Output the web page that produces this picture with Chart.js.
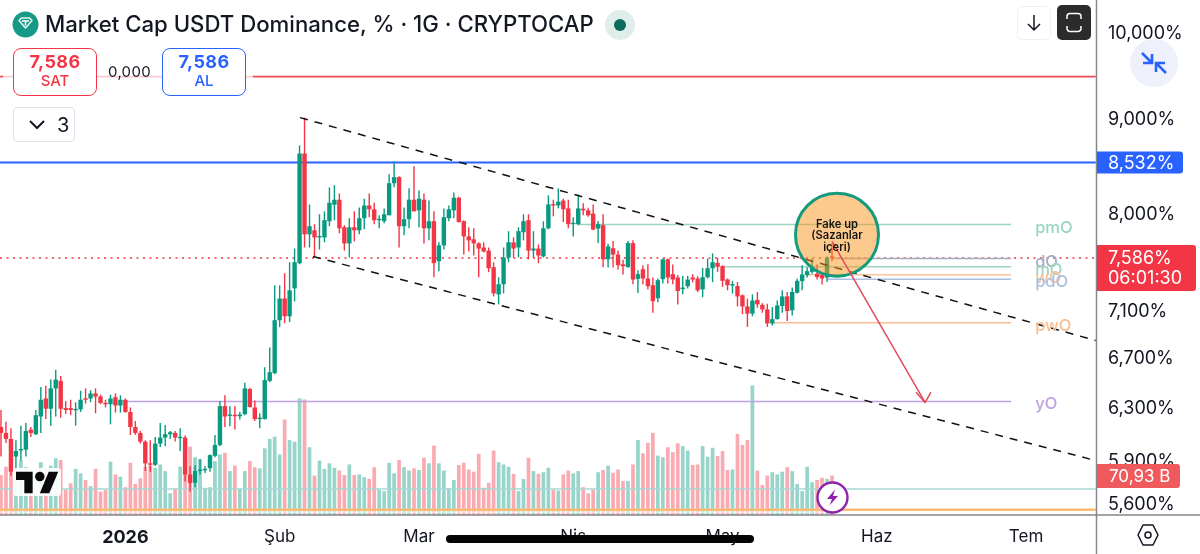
<!DOCTYPE html>
<html lang="tr">
<head>
<meta charset="utf-8">
<title>Market Cap USDT Dominance</title>
<script src="https://cdn.jsdelivr.net/npm/chart.js@4/dist/chart.umd.min.js"></script>
<style>
  html, body { margin: 0; padding: 0; background: #fff; }
  #stage { position: relative; width: 1200px; height: 554px; overflow: hidden; font-family: Inter, "Noto Sans", sans-serif; color: #131722; }
  canvas { position: absolute; left: 0; top: 0; }
  .abs { position: absolute; }
  #title { left: 45px; top: 10px; font-size: 22.2px; font-weight: 500; white-space: nowrap; line-height: 28px; letter-spacing: 0; }
  .trade { box-sizing: border-box; width: 84px; height: 48px; top: 48px; background: #fff; border-radius: 8px; border: 1.5px solid; text-align: center; }
  .trade b { display: block; font-size: 18px; font-weight: 700; line-height: 20px; margin-top: 3px; letter-spacing: .4px; }
  .trade span { display: block; font-size: 15px; font-weight: 500; line-height: 18px; }
  .veil { background: rgba(255,255,255,.72); height: 6px; top: 74px; }
  #spread { left: 108px; top: 62px; font-size: 15px; background: transparent; letter-spacing: .3px; }
  #collapse { left: 13px; top: 107px; width: 62px; height: 35px; box-sizing: border-box; border: 1px solid #e0e3eb; border-radius: 4px; background: #fff; }
  #collapse span { position: absolute; left: 43px; top: 4px; font-size: 20px; line-height: 26px; }
  #home { left: 446px; top: 535px; width: 308px; height: 8px; border-radius: 4px; background: #050505; }
</style>
</head>
<body>
<div id="stage">
  <canvas id="chart" width="1200" height="554"></canvas>

  <svg class="abs" style="left:12px;top:11px" width="27" height="27" viewBox="0 0 27 27">
    <circle cx="13.5" cy="13.5" r="13" fill="#169a86"/>
    <path d="M7 9.5 9.5 7h8l2.5 2.5-6.5 7.5z" fill="none" stroke="#dff5ef" stroke-width="1.6" stroke-linejoin="round"/>
    <path d="M10 10h7M13.5 10v4.5" stroke="#fff" stroke-width="1.5" fill="none"/>
  </svg>
  <div id="title" class="abs">Market Cap USDT Dominance, % · 1G · CRYPTOCAP</div>
  <svg class="abs" style="left:605px;top:10px" width="30" height="30" viewBox="0 0 30 30">
    <circle cx="15" cy="15" r="15" fill="#dfeeea"/>
    <circle cx="15" cy="15" r="6" fill="#0b6b5c"/>
  </svg>

  <div class="abs veil" style="left:3px;width:10px"></div>
  <div class="abs veil" style="left:96px;width:66px"></div>
  <div class="abs veil" style="left:245px;width:8px"></div>
  <div class="abs trade" style="left:13px;border-color:#f23645;color:#f23645"><b>7,586</b><span>SAT</span></div>
  <div id="spread" class="abs">0,000</div>
  <div class="abs trade" style="left:162px;border-color:#2962ff;color:#2962ff"><b>7,586</b><span>AL</span></div>

  <div id="collapse" class="abs">
    <svg class="abs" style="left:14px;top:11px" width="18" height="12" viewBox="0 0 18 12">
      <path d="M2 2l7 7 7-7" fill="none" stroke="#131722" stroke-width="2"/>
    </svg>
    <span>3</span>
  </div>

  <svg class="abs" style="left:1017px;top:6px" width="34" height="34" viewBox="0 0 34 34">
    <rect x=".5" y=".5" width="33" height="33" rx="5" fill="#fff" stroke="#eeeff2"/>
    <path d="M17 9v15M11 18l6 6 6-6" fill="none" stroke="#131722" stroke-width="1.5"/>
  </svg>
  <svg class="abs" style="left:1057px;top:5px" width="34" height="35" viewBox="0 0 34 35">
    <rect width="34" height="35" rx="5" fill="#2b2b2b"/>
    <path d="M10 14v-2.5a3 3 0 0 1 3-3h8a3 3 0 0 1 3 3V14M10 21v2.500a3 3 0 0 0 3 3h8a3 3 0 0 0 3-3V21" fill="none" stroke="#fff" stroke-width="1.5"/>
  </svg>
  <svg class="abs" style="left:1130px;top:39px" width="48" height="48" viewBox="0 0 48 48">
    <circle cx="24" cy="24" r="24" fill="#eef1fb"/>
    <path d="M12 14 22 24M13 24h9v-9M36 34 26 24M35 24h-9v9" fill="none" stroke="#2962ff" stroke-width="2.6"/>
  </svg>
  <svg class="abs" style="left:1137px;top:523px" width="22" height="24" viewBox="0 0 22 24">
    <path d="M6 2h10l5 10-5 10H6L1 12z" fill="none" stroke="#131722" stroke-width="1.5" stroke-linejoin="round"/>
    <circle cx="11" cy="12" r="3" fill="none" stroke="#131722" stroke-width="1.5"/>
  </svg>

  <svg class="abs" style="left:13px;top:468px" width="48" height="28" viewBox="0 0 48 28">
    <rect width="48" height="28" rx="3" fill="#fff" fill-opacity=".9"/>
    <g transform="translate(3 -1) scale(1.19 1.19)">
      <path d="M14 22H7V11H0V4h14v18zM28 22h-8l7.5-18h8L28 22z" fill="#0a0a0a"/>
      <circle cx="20" cy="8" r="4" fill="#0a0a0a"/>
    </g>
  </svg>
  <svg class="abs" style="left:816px;top:481px" width="33" height="33" viewBox="0 0 33 33">
    <circle cx="16.500" cy="16.500" r="15" fill="#fff" stroke="#8e24aa" stroke-width="2.4"/>
    <path d="M19 8.500 11 18h5l-2.500 6.500 8.500-9.500h-5z" fill="#8e24aa"/>
  </svg>
  <div id="home" class="abs"></div>
</div>

<script>
// Daily OHLC of USDT dominance (%), one entry per session.
const open = [
  6.16,6.115,6.07,5.94,5.985,5.99,6.14,6.105,6.24,6.38,
  6.30,6.46,6.52,6.305,6.305,6.288,6.295,6.38,6.38,6.42,
  6.395,6.345,6.335,6.39,6.325,6.37,6.275,6.16,6.115,6.05,
  5.89,5.88,6.035,6.08,6.105,6.115,6.075,6.08,5.81,5.75,
  5.835,5.84,5.855,5.945,6.025,6.32,6.245,6.248,6.242,6.258,
  6.455,6.31,6.22,6.22,6.52,6.582,7.026,7.216,7.06,7.307,
  7.537,8.627,7.81,7.849,7.78,7.78,7.937,8.10,8.15,7.878,
  7.723,7.878,7.849,7.966,8.092,8.054,7.947,7.937,7.995,8.317,
  8.38,7.888,7.957,8.15,8.044,8.15,7.868,7.937,7.555,7.704,
  7.966,8.044,8.17,7.937,7.79,7.762,7.723,7.684,7.655,7.50,
  7.253,7.344,7.59,7.733,7.684,7.83,7.947,7.655,7.674,7.60,
  7.868,8.102,8.092,8.141,8.063,7.908,7.908,8.06,8.044,8.012,
  7.866,7.898,7.573,7.677,7.618,7.527,7.50,7.726,7.393,7.481,
  7.396,7.335,7.219,7.39,7.573,7.436,7.405,7.30,7.326,7.405,
  7.396,7.298,7.408,7.49,7.54,7.509,7.387,7.332,7.328,7.244,
  7.146,7.083,7.204,7.16,7.12,6.998,7.035,7.15,7.235,7.112,
  7.268,7.372,7.427,7.457,7.44,7.427,7.405,7.60
];
const close = [
  6.115,6.07,5.83,5.98,5.995,6.13,6.115,6.25,6.37,6.30,
  6.46,6.53,6.30,6.29,6.29,6.295,6.37,6.37,6.42,6.395,
  6.345,6.335,6.38,6.325,6.37,6.275,6.16,6.115,6.05,5.89,
  5.88,6.035,6.08,6.105,6.12,6.08,6.08,5.81,5.75,5.835,
  5.84,5.85,5.95,6.025,6.32,6.24,6.25,6.242,6.255,6.46,
  6.313,6.22,6.222,6.526,6.59,7.026,7.216,7.06,7.289,7.546,
  8.627,7.81,7.888,7.78,7.79,7.947,8.12,8.15,7.868,7.723,
  7.878,7.849,7.966,8.092,8.054,7.947,7.957,8.005,8.317,8.38,
  7.888,7.957,8.15,8.034,8.16,7.868,7.937,7.537,7.704,7.976,
  8.054,8.17,7.928,7.79,7.752,7.723,7.674,7.646,7.49,7.262,
  7.344,7.59,7.733,7.674,7.84,7.937,7.655,7.674,7.609,7.868,
  8.102,8.092,8.131,8.054,7.908,7.918,8.063,8.044,7.995,7.856,
  7.908,7.573,7.694,7.618,7.518,7.509,7.726,7.387,7.436,7.396,
  7.326,7.192,7.381,7.573,7.405,7.387,7.283,7.314,7.387,7.387,
  7.289,7.408,7.49,7.546,7.503,7.375,7.335,7.338,7.235,7.146,
  7.083,7.198,7.164,7.12,6.998,7.035,7.155,7.235,7.106,7.274,
  7.375,7.433,7.463,7.50,7.41,7.396,7.588,7.586
];
const high = [
  6.29,6.20,6.15,6.06,6.17,6.19,6.16,6.29,6.47,6.48,
  6.53,6.61,6.56,6.36,6.37,6.35,6.44,6.46,6.445,6.46,
  6.41,6.37,6.41,6.42,6.405,6.38,6.31,6.205,6.13,6.06,
  6.06,6.085,6.19,6.175,6.13,6.13,6.15,6.095,5.87,5.877,
  5.92,5.87,5.955,6.10,6.36,6.405,6.32,6.32,6.275,6.505,
  6.465,6.364,6.263,6.63,6.794,7.335,7.335,7.445,7.546,7.674,
  8.713,9.017,8.102,7.908,8.005,8.034,8.275,8.296,8.213,7.898,
  7.966,8.034,8.073,8.16,8.213,8.12,7.995,8.063,8.41,8.545,
  8.39,8.073,8.265,8.493,8.244,8.213,8.141,8.034,7.733,8.063,
  8.092,8.223,8.18,7.947,7.878,7.868,7.733,7.733,7.684,7.546,
  7.408,7.684,7.84,7.781,7.878,8.005,8.005,7.84,7.713,7.937,
  8.193,8.15,8.265,8.16,8.15,7.976,8.203,8.115,8.07,8.102,
  7.94,8.005,7.72,7.745,7.655,7.57,7.745,7.752,7.472,7.518,
  7.527,7.405,7.396,7.58,7.58,7.524,7.427,7.418,7.418,7.436,
  7.418,7.493,7.58,7.628,7.588,7.518,7.396,7.375,7.365,7.253,
  7.214,7.253,7.274,7.175,7.17,7.14,7.198,7.289,7.274,7.314,
  7.393,7.518,7.50,7.58,7.524,7.457,7.60,7.723
];
const low = [
  5.94,6.04,5.80,5.80,5.91,5.94,6.085,6.10,6.115,6.22,
  6.17,6.24,6.23,6.26,6.25,6.17,6.275,6.34,6.35,6.265,
  6.335,6.31,6.18,6.27,6.27,6.27,6.10,6.10,6.035,5.835,
  5.83,5.87,6.01,6.015,6.07,6.05,5.98,5.76,5.69,5.72,
  5.81,5.82,5.83,5.935,6.015,6.16,6.166,6.14,6.217,6.25,
  6.31,6.205,6.15,6.217,6.51,6.574,6.966,7.00,7.01,7.19,
  7.527,7.684,7.684,7.60,7.665,7.733,7.888,7.947,7.82,7.655,
  7.59,7.742,7.81,7.859,7.976,7.908,7.868,7.918,7.995,8.275,
  7.684,7.80,7.868,8.034,7.878,7.723,7.752,7.408,7.463,7.665,
  7.937,7.966,7.928,7.618,7.646,7.609,7.408,7.637,7.454,7.235,
  7.164,7.262,7.546,7.59,7.59,7.752,7.573,7.59,7.537,7.59,
  7.859,7.985,8.063,7.928,7.868,7.79,7.898,7.995,7.98,7.849,
  7.726,7.50,7.497,7.497,7.478,7.433,7.497,7.344,7.265,7.344,
  7.296,7.09,7.183,7.35,7.35,7.344,7.164,7.253,7.305,7.36,
  7.273,7.228,7.396,7.363,7.457,7.32,7.289,7.26,7.146,7.078,
  6.968,7.06,7.135,7.09,6.968,6.98,7.032,7.09,7.02,7.066,
  7.26,7.289,7.405,7.44,7.387,7.341,7.365,7.555
];
// Daily volume in billions.
const volume = [
  72,87,99,72,99,86,57,75,95,84,
  89,102,99,46,57,83,75,63,52,83,
  42,45,96,73,69,50,94,56,66,87,
  88,85,91,79,39,47,87,99,123,104,
  101,49,50,97,109,112,79,89,47,79,
  97,86,84,120,137,141,109,172,135,132,
  210,208,122,71,98,83,93,85,80,72,
  91,72,73,68,65,86,46,43,94,75,
  99,86,80,84,81,103,93,125,93,80,
  48,63,90,94,82,78,110,49,58,116,
  95,91,87,74,43,65,103,79,74,77,
  85,46,44,73,80,75,79,50,39,46,
  77,81,89,76,82,61,61,91,135,111,
  130,148,107,104,122,113,129,124,116,90,
  91,124,105,121,106,115,81,82,146,126,
  135,233,80,54,71,77,73,78,86,79,
  56,43,87,59,63,67,65,70.93
];

// Time axis: session number of each month start, and its caption.
const tickDays = [25, 56, 84, 115, 145, 176, 206];
const tickLabels = ['2026', 'Şub', 'Mar', 'Nis', 'May', 'Haz', 'Tem'];
// Price axis ticks.
const priceTicks = [10, 9, 8, 7.1, 6.7, 6.3, 5.9, 5.6];

// Session-open reference levels.
const levelNames = ['pmO', 'dO', 'mO', 'wO', 'pdO', 'pwO', 'yO'];
const levelValues = [7.904, 7.58, 7.505, 7.43, 7.389, 7.003, 6.356];
const levelStarts = [116, 167, 145, 162, 166, 155, 25];
const levelColors = ['#98d6bd', '#a3aec0', '#9dd6c0', '#f9c49a', '#aac0e2', '#f8bd92', '#bda3e2'];
const levelEnd = 203;

// Full-width horizontal levels.
const sellLevel = 9.484;
const alertLevel = 8.532;
const lastPrice = 7.586;
const floorLevelA = 5.706;
const floorLevelB = 5.563;
const floorFade = 5.545;

// Drawn channel and projection, as session number and price.
const channelUpper = [{x: 60.1, y: 9.017}, {x: 220, y: 6.852}];
const channelLower = [{x: 62.7, y: 7.599}, {x: 220, y: 5.910}];
const projection = [{x: 167, y: 7.742}, {x: 185.7, y: 6.349}];
const projectionHead = [{x: 183.9, y: 6.43}, {x: 185.7, y: 6.349}, {x: 186.9, y: 6.43}];
const noteBubble = [{x: 168, y: 7.806, r: 41.5}];
const noteLines = ['Fake up', '(Sazanlar', 'içeri)'];

const UP = '#089981', DOWN = '#f23645';
const sessions = close.map((_, i) => i);
const isUp = i => close[i] >= open[i];

const hline = (value, from, to, color, width, dash, order) => ({
  type: 'line', data: [{x: from, y: value}, {x: to, y: value}],
  borderColor: color, borderWidth: width, borderDash: dash || [],
  pointRadius: 0, order, yAxisID: 'y'
});
const polyline = (points, color, width, dash, order) => ({
  type: 'line', data: points, borderColor: color, borderWidth: width,
  borderDash: dash || [], pointRadius: 0, order, yAxisID: 'y'
});

const datasets = [
  { type: 'bar', data: sessions.map(i => ({x: i, y: volume[i]})), yAxisID: 'y1', grouped: false,
    barThickness: 3.7, inflateAmount: 0, order: 30,
    backgroundColor: sessions.map(i => isUp(i) ? 'rgba(8,153,129,.42)' : 'rgba(242,54,69,.42)') },
  hline(floorLevelA, -0.2, 220, '#a9d9d4', 1.5, null, 28),
  hline(floorLevelB, -0.2, 220, '#fbbc72', 2.5, null, 27),
  hline(floorFade, -0.2, 220, 'rgba(255,255,255,.65)', 2, null, 26),
  hline(sellLevel, -0.2, 220, '#ef4a55', 1.8, null, 25),
  hline(alertLevel, -0.2, 220, '#2962ff', 2, null, 24),
  hline(lastPrice, -0.2, 220, '#f23645', 1.5, [2, 4.5], 23),
  ...levelNames.map((_, j) => hline(levelValues[j], levelStarts[j], levelEnd, levelColors[j], 1.5, null, 22 - j)),
  { type: 'bar', data: sessions.map(i => ({x: i, y: [low[i], high[i]]})), yAxisID: 'y', grouped: false,
    barThickness: 1.4, inflateAmount: 0, order: 12,
    backgroundColor: sessions.map(i => isUp(i) ? UP : DOWN) },
  { type: 'bar', data: sessions.map(i => ({x: i, y: [open[i], close[i]]})), yAxisID: 'y', grouped: false,
    barThickness: 4.4, inflateAmount: 0, minBarLength: 1.4, order: 11,
    backgroundColor: sessions.map(i => isUp(i) ? UP : DOWN) },
  polyline(channelUpper, '#111', 1.5, [8, 7], 10),
  polyline(channelLower, '#111', 1.5, [8, 7], 9),
  { type: 'bubble', data: noteBubble, yAxisID: 'y', order: 5,
    backgroundColor: 'rgba(251,150,30,.5)', borderColor: '#149a7c', borderWidth: 3, hoverRadius: 0 },
  polyline(projection, '#e34b5a', 1.5, null, 3),
  polyline(projectionHead, '#e34b5a', 1.5, null, 2)
];

function roundedTag(ctx, x, y, w, h, r, color) {
  ctx.fillStyle = color;
  ctx.beginPath();
  ctx.roundRect(x, y, w, h, [0, r, r, 0]);
  ctx.fill();
}

// Paints the pane borders, level captions, note text and price tags.
const annotations = {
  id: 'annotations',
  afterDraw(chart) {
    const {ctx, scales: {x, y}, chartArea: area} = chart;
    ctx.save();

    // Pane borders
    ctx.strokeStyle = '#85878c';
    ctx.lineWidth = 1.5;
    ctx.beginPath();
    ctx.moveTo(area.right + 0.5, 0); ctx.lineTo(area.right + 0.5, 554);
    ctx.moveTo(0, area.bottom); ctx.lineTo(1200, area.bottom);
    ctx.stroke();

    // Level captions
    ctx.textBaseline = 'middle';
    ctx.textAlign = 'left';
    ctx.font = '500 16.5px Inter';
    levelNames.forEach((name, j) => {
      ctx.fillStyle = levelColors[j];
      ctx.fillText(name, x.getPixelForValue(levelEnd) + 24, y.getPixelForValue(levelValues[j]) + 3);
    });

    // Note inside the bubble
    const note = noteBubble[0];
    ctx.fillStyle = '#141414';
    ctx.textAlign = 'center';
    ctx.font = '600 11.2px Inter';
    noteLines.forEach((line, j) => {
      ctx.fillText(line, x.getPixelForValue(note.x), y.getPixelForValue(note.y) + 1 + (j - 1) * 11.5);
    });

    // Price tags on the axis
    ctx.textAlign = 'left';
    ctx.font = '18px Inter';
    const blueY = y.getPixelForValue(alertLevel);
    roundedTag(ctx, area.right + 1, blueY - 11, 86, 22, 3, '#2962ff');
    ctx.fillStyle = '#fff';
    ctx.fillText('8,532%', 1108, blueY + 1);

    const lastY = y.getPixelForValue(lastPrice);
    roundedTag(ctx, area.right + 1, lastY - 13, 99, 46, 3, '#f23645');
    ctx.fillStyle = '#fff';
    ctx.fillText('7,586%', 1108, lastY + 1);
    ctx.fillText('06:01:30', 1108, lastY + 21);

    roundedTag(ctx, area.right + 1, 464, 83, 24, 3, '#ef5a5d');
    ctx.font = '17px Inter';
    ctx.fillStyle = '#fff';
    ctx.fillText('70,93 B', 1109, 477);
    ctx.restore();
  }
};

// Axis labels must not push the plot area away from the canvas edges.
const noLabelMargins = s => {
  s.paddingLeft = s.paddingRight = s.paddingTop = s.paddingBottom = 0;
};

new Chart(document.getElementById('chart'), {
  type: 'bar',
  data: { datasets },
  plugins: [annotations],
  options: {
    responsive: false,
    animation: false,
    events: [],
    layout: { padding: 0, autoPadding: false },
    plugins: { legend: { display: false }, tooltip: { enabled: false }, title: { display: false } },
    scales: {
      x: {
        type: 'linear', offset: false, min: -0.2, max: 220.05,
        grid: { display: false, drawTicks: false },
        border: { display: false },
        afterBuildTicks: s => { s.ticks = tickDays.map(value => ({value})); },
        afterFit: s => { s.height = 39; noLabelMargins(s); },
        ticks: {
          autoSkip: false, maxRotation: 0, padding: 12, color: '#131722',
          font: c => (c.tick && c.tick.value === tickDays[0])
            ? { family: 'Inter', size: 18, weight: '700' }
            : { family: 'Inter', size: 17, weight: '400' },
          callback: v => tickLabels[tickDays.indexOf(v)]
        }
      },
      y: {
        type: 'logarithmic', position: 'right', min: 5.527, max: 10.423,
        grid: { display: false, drawTicks: false },
        border: { display: false },
        afterBuildTicks: s => { s.ticks = priceTicks.map(value => ({value})); },
        afterFit: s => { s.width = 104; noLabelMargins(s); },
        ticks: {
          autoSkip: false, padding: 12, color: '#131722',
          font: { family: 'Inter', size: 18 },
          callback: v => v.toFixed(3).replace('.', ',') + '%'
        }
      },
      y1: { type: 'linear', display: false, min: 0, max: 927 }
    }
  }
});
</script>
</body>
</html>
